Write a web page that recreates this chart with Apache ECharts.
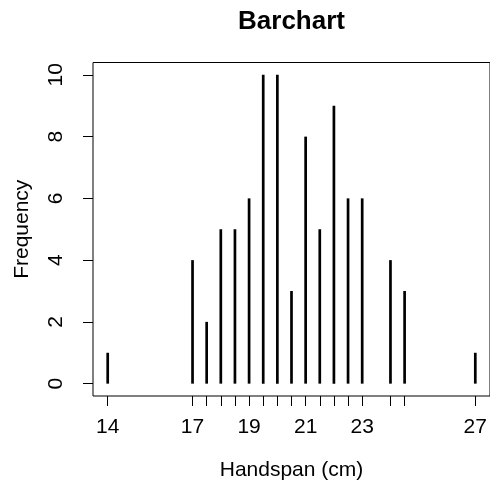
<!DOCTYPE html>
<html>
<head>
<meta charset="utf-8">
<script src="https://cdn.jsdelivr.net/npm/echarts@6/dist/echarts.min.js"></script>
<style>
  html, body { margin: 0; padding: 0; background: #fff; }
  #chart { width: 490px; height: 482px; }
</style>
</head>
<body>
<div id="chart"></div>
<script>
// handspan values (cm) and how many times each appears
const spans = [14, 17, 17.5, 18, 18.5, 19, 19.5, 20, 20.5, 21, 21.5, 22, 22.5, 23, 24, 24.5, 27];
const counts = [1, 4, 2, 5, 5, 6, 10, 10, 3, 8, 5, 9, 6, 6, 4, 3, 1];
const xLabels = [14, 17, 19, 21, 23, 27];
const yTicks = [0, 2, 4, 6, 8, 10];

const font = "Liberation Sans, Arial, sans-serif";
const chart = echarts.init(document.getElementById("chart"));

chart.setOption({
  animation: false,
  title: {
    text: "Barchart",
    left: 291.5,
    top: 9,
    padding: 0,
    textAlign: "center",
    textStyle: { fontFamily: font, fontSize: 26, fontWeight: "bold", color: "#000" },
  },
  grid: {
    show: true,
    left: 93,
    right: 0,
    top: 62.5,
    bottom: 86,
    containLabel: false,
    outerBoundsMode: "none",
    borderColor: "#000",
    borderWidth: 1,
  },
  xAxis: {
    type: "value",
    min: 13.48,
    max: 27.52,
    name: "Handspan (cm)",
    nameLocation: "middle",
    nameGap: 64,
    nameTextStyle: { fontFamily: font, fontSize: 21, color: "#000" },
    splitLine: { show: false },
    axisLine: { show: false, onZero: false },
    axisTick: {
      show: true,
      length: 10,
      customValues: spans,
      lineStyle: { color: "#000" },
    },
    axisLabel: {
      margin: 21,
      customValues: xLabels,
      fontFamily: font,
      fontSize: 21,
      color: "#000",
    },
  },
  yAxis: {
    type: "value",
    min: -0.4,
    max: 10.4,
    name: "Frequency",
    nameLocation: "middle",
    nameRotate: 90,
    nameGap: 60,
    nameTextStyle: { fontFamily: font, fontSize: 21, color: "#000" },
    splitLine: { show: false },
    axisLine: { show: false, onZero: false },
    axisTick: {
      show: true,
      length: 10,
      customValues: yTicks,
      lineStyle: { color: "#000" },
    },
    axisLabel: {
      margin: 26,
      rotate: 90,
      customValues: yTicks,
      fontFamily: font,
      fontSize: 21,
      color: "#000",
    },
  },
  series: [
    {
      type: "bar",
      barWidth: 2.7,
      data: spans.map((s, i) => [s, counts[i]]),
      itemStyle: { color: "#000" },
    },
  ],
});
</script>
</body>
</html>
